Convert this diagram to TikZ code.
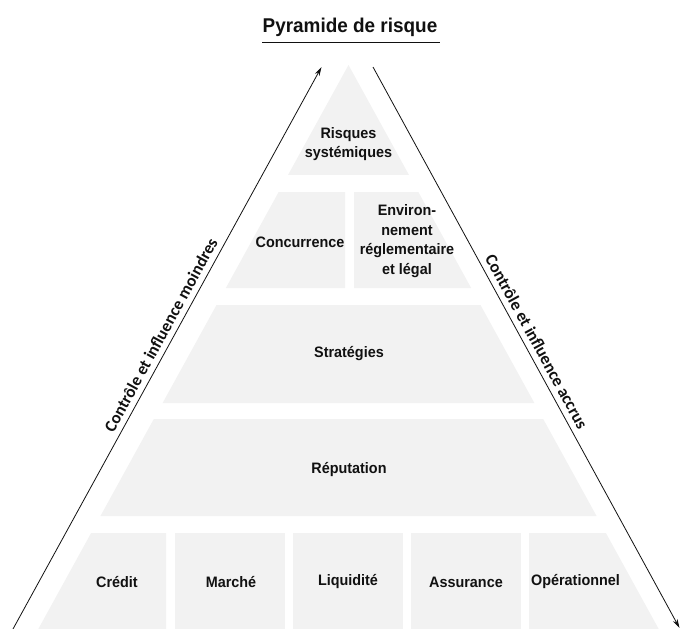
\documentclass[tikz,border=0pt]{standalone}
\usepackage{fontspec}
\setmainfont{Liberation Sans}[FakeStretch=0.95]
\newfontfamily\sidefont{Carlito}
\usetikzlibrary{arrows.meta}
\definecolor{layergray}{HTML}{F2F2F2}
\definecolor{inkcol}{HTML}{111111}
\begin{document}
\begin{tikzpicture}[x=1bp,y=-1bp,
  layer/.style={fill=layergray,draw=none},
  lbl/.style={font=\bfseries\fontsize{15.2}{19.5}\selectfont,align=center,inner sep=0pt,text=inkcol},
  sidelbl/.style={font=\sidefont\bfseries\fontsize{17}{18}\selectfont,inner sep=5.5bp,text=inkcol},
  arr/.style={line width=0.8bp,draw=inkcol,-{Stealth[length=9bp,width=5bp]}}]
\useasboundingbox (0,0) rectangle (682,629);

% title
\node[font=\bfseries\fontsize{20}{24}\selectfont,text=inkcol] (title) at (350,27) {Pyramide de risque};
\coordinate (ulA) at (262,43);
\coordinate (ulB) at (440,43);
\draw[line width=1bp,inkcol] (ulA) -- (ulB);

% layers
\fill[layer] (348.5,65) -- (409,175) -- (288,175) -- cycle;
\fill[layer] (278.65,192) -- (345,192) -- (345,288) -- (225.85,288) -- cycle;
\fill[layer] (354,192) -- (418.35,192) -- (471.15,288) -- (354,288) -- cycle;
\fill[layer] (216.5,305) -- (480.5,305) -- (534.4,403) -- (162.6,403) -- cycle;
\fill[layer] (153.8,419) -- (543.2,419) -- (596.55,516) -- (100.45,516) -- cycle;
\fill[layer] (91.1,533) -- (166,533) -- (166,629) -- (38.3,629) -- cycle;
\fill[layer] (175,533) rectangle (285,629);
\fill[layer] (293,533) rectangle (403,629);
\fill[layer] (411,533) rectangle (521,629);
\fill[layer] (529,533) -- (605.9,533) -- (658.7,629) -- (529,629) -- cycle;

% labels
\node[lbl] (sys) at (348.5,144) {Risques\\systémiques};
\node[lbl] (conc) at (300,242) {Concurrence};
\node[lbl] (env) at (407,241) {Environ-\\nement\\réglementaire\\et légal};
\node[lbl] (strat) at (349,354) {Stratégies};
\node[lbl] (rep) at (349,470) {Réputation};
\node[lbl] (cred) at (117,582) {Crédit};
\node[lbl] (march) at (231,582) {Marché};
\node[lbl] (liq) at (348,582) {Liquidité};
\node[lbl] (ass) at (466,582) {Assurance};
\node[lbl] (oper) at (575.5,582) {Opérationnel};

% arrows
\coordinate (lA) at (13,629);
\coordinate (lB) at (321.5,67);
\coordinate (rA) at (373,67);
\coordinate (rB) at (679.5,628);
\draw[arr] (lA) -- node[sidelbl,sloped,above,pos=0.513] (lefttxt) {Contrôle et influence moindres} (lB);
\draw[arr] (rA) -- node[sidelbl,sloped,above,pos=0.5] (righttxt) {Contrôle et influence accrus} (rB);
\end{tikzpicture}
\end{document}
